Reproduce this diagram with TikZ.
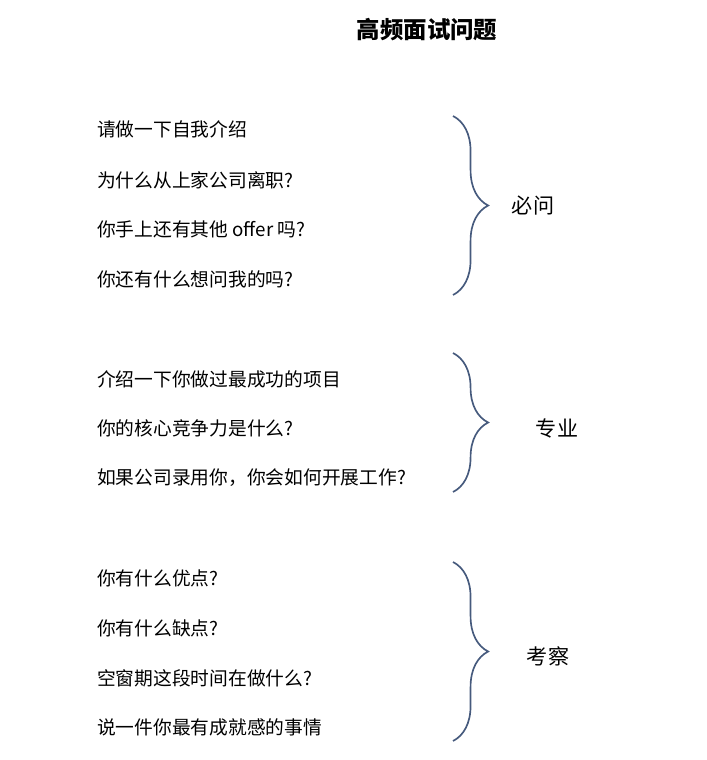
\documentclass[tikz,border=0pt]{standalone}
\usepackage{fontspec}
\setmainfont{Noto Sans CJK SC}
\usetikzlibrary{decorations.pathreplacing}
\definecolor{bracecol}{RGB}{70,90,125}
\tikzset{q/.style={anchor=west,font=\fontsize{16}{18}\selectfont},
  tag/.style={font=\fontsize{18}{20}\selectfont},
  br/.style={draw=bracecol,line width=.5mm,decorate,decoration={brace,amplitude=30pt,aspect=0.5}}}
\begin{document}
\begin{tikzpicture}[x=0.03cm,y=-0.03cm]
   \useasboundingbox (0,0) rectangle (707,760);
     \path (427,30) node[font=\fontsize{20}{22}\selectfont\bfseries] (title) {高频面试问题};

     \path (93,129) node[q] (a1) {请做一下自我介绍};
     \path (93,180) node[q] (a2) {为什么从上家公司离职?};
     \path (93,229) node[q] (a3) {你手上还有其他 offer 吗?};
     \path (93,279) node[q] (a4) {你还有什么想问我的吗?};

     \path (93,379) node[q] (b1) {介绍一下你做过最成功的项目};
     \path (93,428) node[q] (b2) {你的核心竞争力是什么?};
     \path (93,478) node[q] (b3) {如果公司录用你，你会如何开展工作?};

     \path (93,578) node[q] (c1) {你有什么优点?};
     \path (93,628) node[q] (c2) {你有什么缺点?};
     \path (93,678) node[q] (c3) {空窗期这段时间在做什么?};
     \path (93,727) node[q] (c4) {说一件你最有成就感的事情};

     \coordinate (ta) at (453,116); \coordinate (ba) at (453,295);
     \coordinate (tb) at (453,353); \coordinate (bb) at (453,492);
     \coordinate (tc) at (453,562); \coordinate (bc) at (453,741);

     \draw[br] (ta) -- (ba);
     \draw[br] (tb) -- (bb);
     \draw[br] (tc) -- (bc);

     \path (533,206) node[tag] (ga) {必问};
     \path (557,428) node[tag] (gb) {专业};
     \path (548,656) node[tag] (gc) {考察};
\end{tikzpicture}
\end{document}
